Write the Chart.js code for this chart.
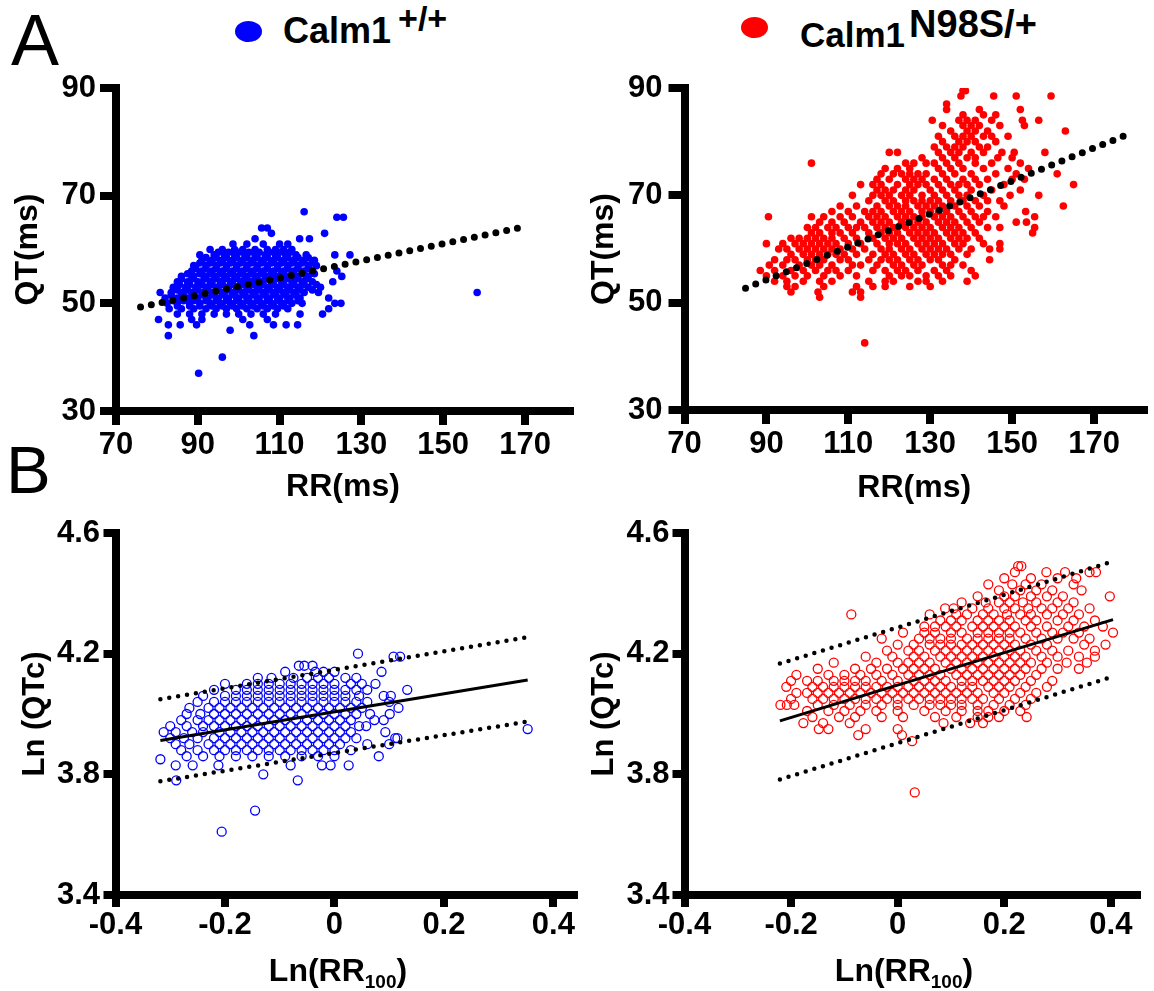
<!DOCTYPE html>
<html>
<head>
<meta charset="utf-8">
<script src="https://cdn.jsdelivr.net/npm/chart.js@4.4.1/dist/chart.umd.min.js"></script>
<style>
  html, body { margin: 0; padding: 0; background: #fff; }
  body { width: 1154px; height: 991px; position: relative; overflow: hidden; font-family: "Liberation Sans", Arial, sans-serif; }
  canvas { position: absolute; }
  .txt { position: absolute; line-height: 1; white-space: nowrap; color: #000; }
  .b { font-weight: bold; }
  .dot { position: absolute; border-radius: 50%; }
</style>
</head>
<body>
<div class="txt" style="left:11px;top:4px;font-size:72px">A</div>
<div class="txt" style="left:6px;top:436px;font-size:67px">B</div>

<div class="dot" style="left:235px;top:21px;width:27px;height:21px;background:#0000ff"></div>
<div class="txt b" style="left:283px;top:12.5px;font-size:36px">Calm1<span style="font-size:34px;position:relative;top:-13px;margin-left:7px">+/+</span></div>
<div class="dot" style="left:741px;top:17px;width:27px;height:21px;background:#ff0000"></div>
<div class="txt b" style="left:800px;top:15.4px;font-size:35px">Calm1<span style="font-size:38px;position:relative;top:-10px;margin-left:4px">N98S/+</span></div>

<canvas id="tl" width="577" height="470" style="left:0;top:40px"></canvas>
<canvas id="tr" width="577" height="470" style="left:577px;top:40px"></canvas>
<canvas id="bl" width="580" height="481" style="left:0;top:510px"></canvas>
<canvas id="br" width="577" height="481" style="left:577px;top:510px"></canvas>

<div class="txt b" style="left:188px;top:954px;width:300px;text-align:center;font-size:32px">Ln(RR<span style="font-size:19px;position:relative;top:7px">100</span>)</div>
<div class="txt b" style="left:754px;top:954px;width:300px;text-align:center;font-size:32px">Ln(RR<span style="font-size:19px;position:relative;top:7px">100</span>)</div>

<script>
// tick values shown on the axes
const rrTicks = [70, 90, 110, 130, 150, 170];
const qtTicks = [30, 50, 70, 90];
const lnRRTicks = [-0.4, -0.2, 0, 0.2, 0.4];
const lnQTcTicks = [3.4, 3.8, 4.2, 4.6];

// ---- panel A, Calm1 +/+ : QT (ms) levels and the RR (ms) values seen on each level
const wtQTLevels = [67, 66, 64, 63, 62, 61, 60, 59, 58, 57, 56, 55, 54, 53, 52, 51, 50, 49, 48, 47, 46, 45, 44, 40, 37,
  59.5, 58.5, 57.5, 56.5, 55.5, 54.5, 53.5, 52.5, 51.5, 50.5, 49.5];
const wtRR = [
  [116],
  [124, 125.6],
  [105.6, 107],
  [108, 121],
  [104, 114.9, 117.3],
  [98.6, 102, 106, 110, 112],
  [93, 96, 99, 101, 104, 107, 109, 111, 113],
  [90.5, 94, 96.5, 99, 101.5, 104, 106.5, 109, 111.5, 114, 116.5, 123.5, 127.2],
  [91, 93.5, 96, 98.5, 101, 103.5, 106, 108.5, 111, 113.5, 116, 118.5],
  [89, 92, 94.5, 97, 99.5, 102, 104.5, 107, 109.5, 112, 114.5, 117, 119],
  [88.5, 91, 93.5, 96, 98.5, 101, 103.5, 106, 108.5, 111, 113.5, 116, 118, 124],
  [86, 89, 92, 94.5, 97, 99.5, 102, 104.5, 107, 109.5, 112, 114.5, 117, 125.2],
  [85, 87.5, 90, 93, 95.5, 98, 100.5, 103, 105.5, 108, 110.5, 113, 115.5, 118, 123],
  [84, 87, 89.5, 92, 94.5, 97, 99.5, 102, 104.5, 107, 109.5, 112, 114.5, 117, 120],
  [80.8, 83.5, 86, 88.5, 91, 93.5, 96, 98.5, 101, 103.5, 106, 108.5, 111, 113.5, 116, 119.5, 158.3],
  [82, 85, 87.5, 90, 92.5, 95, 97.5, 100, 102.5, 105, 107.5, 110, 112.5, 115, 122],
  [82.5, 85, 88, 90.5, 93, 95.5, 98, 100.5, 103, 105.5, 108, 110.5, 113, 115.5, 123.5, 125],
  [83, 86, 89, 92, 94.5, 97, 99.5, 102, 104.5, 107, 109.5, 112, 122],
  [85, 88, 91, 94, 97, 100, 103, 106, 109, 115, 120.5],
  [80.4, 88.5, 91, 101, 107],
  [82.8, 85.7, 89.7, 102.7, 108.5, 111.6, 114.4],
  [97.9],
  [82.8, 103.7],
  [96],
  [90.2],
  // in-between readings of the dense core
  [95, 97.5, 100, 102.5, 105, 107.5, 110, 112.5],
  [92, 94.5, 97, 99.5, 102, 104.5, 107, 109.5, 112, 114.5, 117],
  [90.5, 93, 95.5, 98, 100.5, 103, 105.5, 108, 110.5, 113, 115.5, 118],
  [89.5, 92, 94.5, 97, 99.5, 102, 104.5, 107, 109.5, 112, 114.5, 117],
  [87.5, 90.5, 93, 95.5, 98, 100.5, 103, 105.5, 108, 110.5, 113, 115.5, 118.5],
  [86, 88.5, 91.5, 94, 96.5, 99, 101.5, 104, 106.5, 109, 111.5, 114, 116.5],
  [85.5, 88, 91, 93.5, 96, 98.5, 101, 103.5, 106, 108.5, 111, 113.5, 116, 119],
  [85, 87.5, 90, 92.5, 95, 97.5, 100, 102.5, 105, 107.5, 110, 112.5, 115, 118],
  [83.5, 86.5, 89, 91.5, 94, 96.5, 99, 101.5, 104, 106.5, 109, 111.5, 114],
  [84, 86.5, 89, 92, 94.5, 97, 99.5, 102, 104.5, 107, 109.5, 112, 114.5],
  [85, 88, 90.5, 93.5, 96, 98.5, 101, 103.5, 106, 108.5, 111]
];
const wtFit = [{x: 76, y: 49.3}, {x: 169.2, y: 64.1}];

// ---- panel A, Calm1 N98S/+
const mutQTLevels = [89.5, 88.5, 87, 86, 85, 84, 83, 82, 81, 80, 79, 78, 77, 76, 75, 74, 73, 72, 71, 70,
  69, 68, 67, 66, 65, 64, 63, 62, 61, 60, 59, 58, 57, 56, 55, 54, 53, 52, 51, 42.5];
const mutRR = [
  [138, 138.6],
  [137.5, 145.5, 151, 159.5],
  [134],
  [134, 142, 152],
  [138, 143, 146],
  [130.5, 137, 139, 141, 145, 152.5, 156.5],
  [133, 138, 140, 142, 147, 153],
  [135, 139, 141, 144, 163],
  [132, 136, 138, 140, 143, 145, 149],
  [133, 137, 139, 141, 146],
  [131, 134, 136, 138, 142, 144],
  [120, 122, 132, 135, 137, 140, 143, 147.5, 150.5, 158],
  [128, 133, 136, 139, 141, 146.5, 150],
  [101, 124, 126, 129, 131, 134, 137, 141, 145, 152],
  [119, 122, 125, 132, 135, 138, 143, 149, 154],
  [118, 121, 123, 125, 127, 129, 133, 136, 140, 146, 151, 161],
  [117, 120, 124, 126, 128, 131, 134, 138, 141, 144, 150, 153],
  [113, 116, 118, 122, 125, 127, 129, 132, 135, 137, 139, 142, 148, 165],
  [117, 119, 121, 124, 126, 130, 133, 136, 140, 145, 152],
  [111, 116, 118, 120, 123, 125, 128, 131, 134, 137, 139, 143, 149.5, 156.5],
  [115, 119, 121, 124, 126, 128, 130, 132, 135, 138, 141, 144, 147],
  [108, 112, 117, 120, 122, 124, 127, 129, 131, 133, 136, 139, 142, 148, 162.5],
  [106, 110, 114, 116, 118, 121, 123, 125, 128, 130, 132, 134, 137, 140, 144, 153.3],
  [90.5, 101, 104, 108, 111, 115, 117, 119, 122, 124, 126, 128, 131, 133, 135, 138, 141, 143, 146, 155.5],
  [103, 106, 109, 113, 116, 118, 120, 123, 125, 127, 129, 132, 134, 136, 139, 142, 151, 153.5],
  [100, 102, 105, 107, 110, 112, 114, 117, 119, 121, 124, 126, 128, 130, 133, 135, 137, 140, 144, 147, 155.5],
  [101, 103, 106, 108, 111, 115, 118, 120, 122, 125, 127, 129, 131, 134, 136, 138, 141, 155],
  [96, 98, 100, 102, 104, 106, 109, 112, 116, 119, 121, 123, 126, 128, 130, 132, 135, 137, 139, 142],
  [90, 94, 97, 99, 101, 103, 105, 107, 110, 113, 117, 120, 122, 124, 127, 129, 131, 133, 136, 138, 143, 147],
  [93, 95, 98, 100, 102, 104, 106, 108, 111, 114, 118, 120, 123, 125, 128, 130, 132, 134, 137, 140, 144.5, 147],
  [96, 99, 101, 103, 105, 107, 109, 112, 116, 119, 121, 124, 126, 129, 131, 133, 135, 139],
  [92, 95, 97, 100, 102, 104, 108, 110, 115, 118, 120, 122, 125, 127, 130, 132, 136, 144.5],
  [90.7, 94, 98, 101, 103, 106, 111, 113, 117, 121, 123, 126, 128, 133, 135, 138],
  [88.5, 92, 96, 99, 102, 105, 107, 110, 116, 119, 122, 124, 127, 131, 134, 140],
  [90, 94, 97, 100, 104, 108, 112, 120, 123, 125, 129, 132, 135, 141],
  [92, 95, 99, 103, 106, 115, 119, 121, 127, 129, 133, 139],
  [95, 97, 104, 112, 116, 119, 125, 130],
  [96, 102.6, 111, 113],
  [103, 113],
  [114]
];
const mutFit = [{x: 84.9, y: 52.7}, {x: 178.4, y: 81.4}];

// ---- panel B, Calm1 +/+ : Ln(QTc) levels and Ln(RR100) values
const wtLnQTcLevels = [4.20, 4.19, 4.16, 4.14, 4.12, 4.10, 4.08, 4.06, 4.04, 4.02, 4.00, 3.98, 3.96, 3.95,
  3.94, 3.92, 3.90, 3.88, 3.86, 3.85, 3.83, 3.80, 3.78, 3.68, 3.61];
const wtLnRR = [
  [0.043],
  [0.108, 0.12],
  [-0.065, -0.055, -0.04],
  [-0.09, -0.035, -0.02, 0.0, 0.086],
  [-0.14, -0.115, -0.075, -0.05, -0.03, -0.01, 0.02, 0.04],
  [-0.2, -0.16, -0.14, -0.12, -0.1, -0.08, -0.06, -0.04, -0.02, 0.0, 0.03, 0.05, 0.075],
  [-0.22, -0.18, -0.16, -0.14, -0.12, -0.1, -0.08, -0.06, -0.04, -0.02, 0.0, 0.02, 0.04, 0.06, 0.133],
  [-0.24, -0.2, -0.18, -0.16, -0.14, -0.12, -0.1, -0.08, -0.06, -0.04, -0.02, 0.0, 0.02, 0.045, 0.09, 0.103],
  [-0.25, -0.22, -0.2, -0.18, -0.16, -0.14, -0.12, -0.1, -0.08, -0.06, -0.04, -0.02, 0.0, 0.02, 0.04, 0.06, 0.1],
  [-0.265, -0.23, -0.21, -0.19, -0.17, -0.15, -0.13, -0.11, -0.09, -0.07, -0.05, -0.03, -0.01, 0.01, 0.03, 0.05, 0.117],
  [-0.27, -0.245, -0.22, -0.2, -0.18, -0.16, -0.14, -0.12, -0.1, -0.08, -0.06, -0.04, -0.02, 0.0, 0.02, 0.04, 0.065, 0.101],
  [-0.28, -0.25, -0.23, -0.21, -0.19, -0.17, -0.15, -0.13, -0.11, -0.09, -0.07, -0.05, -0.03, -0.01, 0.01, 0.03, 0.073, 0.09],
  [-0.3, -0.27, -0.24, -0.22, -0.2, -0.18, -0.16, -0.14, -0.12, -0.1, -0.08, -0.06, -0.04, -0.02, 0.0, 0.02, 0.045, 0.058],
  [0.353],
  [-0.312, -0.29, -0.26, -0.24, -0.21, -0.19, -0.17, -0.15, -0.13, -0.11, -0.09, -0.07, -0.05, -0.03, -0.01, 0.01, 0.03, 0.093],
  [-0.3, -0.275, -0.25, -0.22, -0.2, -0.18, -0.16, -0.14, -0.12, -0.1, -0.08, -0.06, -0.04, -0.02, 0.0, 0.02, 0.04, 0.111, 0.115],
  [-0.29, -0.265, -0.23, -0.21, -0.19, -0.17, -0.15, -0.13, -0.11, -0.09, -0.07, -0.05, -0.03, -0.01, 0.01, 0.06, 0.1],
  [-0.28, -0.25, -0.22, -0.2, -0.18, -0.16, -0.14, -0.12, -0.1, -0.08, -0.06, -0.04, -0.02, 0.0, 0.03],
  [-0.27, -0.24, -0.21, -0.18, -0.15, -0.12, -0.09, -0.06, -0.03, 0.0, 0.081],
  [-0.318],
  [-0.29, -0.259, -0.212, -0.08, -0.023, -0.007, 0.026],
  [-0.13],
  [-0.289, -0.067],
  [-0.145],
  [-0.206]
];
const wtLnFit = [{x: -0.318, y: 3.912}, {x: 0.353, y: 4.113}];
const wtLnUpper = [{x: -0.318, y: 4.049}, {x: 0.35, y: 4.254}];
const wtLnLower = [{x: -0.318, y: 3.777}, {x: 0.35, y: 3.974}];

// ---- panel B, Calm1 N98S/+
const mutLnQTcLevels = [4.49, 4.47, 4.45, 4.43, 4.41, 4.39, 4.37, 4.35, 4.33, 4.31, 4.29, 4.27, 4.25, 4.23,
  4.21, 4.19, 4.17, 4.15, 4.13, 4.11, 4.09, 4.07, 4.05, 4.03, 4.01, 3.99, 3.97, 3.95, 3.93, 3.91, 3.74];
const mutLnRR = [
  [0.226, 0.232],
  [0.22, 0.279, 0.314, 0.36, 0.372],
  [0.2, 0.25, 0.3, 0.335],
  [0.17, 0.215, 0.24, 0.27, 0.33],
  [0.19, 0.23, 0.26, 0.29, 0.345],
  [0.15, 0.2, 0.22, 0.25, 0.28, 0.31, 0.398],
  [0.12, 0.165, 0.19, 0.21, 0.235, 0.26, 0.3, 0.33],
  [0.089, 0.105, 0.14, 0.17, 0.2, 0.22, 0.245, 0.27, 0.29, 0.32, 0.36],
  [-0.087, 0.06, 0.11, 0.13, 0.16, 0.18, 0.205, 0.23, 0.25, 0.28, 0.31, 0.34],
  [0.08, 0.1, 0.12, 0.15, 0.17, 0.19, 0.21, 0.24, 0.26, 0.3, 0.33, 0.37],
  [0.05, 0.07, 0.09, 0.11, 0.14, 0.16, 0.18, 0.2, 0.22, 0.25, 0.28, 0.32, 0.35, 0.385],
  [0.01, 0.05, 0.07, 0.1, 0.12, 0.15, 0.17, 0.19, 0.21, 0.23, 0.26, 0.29, 0.31, 0.34, 0.404],
  [-0.03, 0.04, 0.06, 0.08, 0.1, 0.13, 0.15, 0.17, 0.19, 0.21, 0.24, 0.27, 0.3, 0.33, 0.36],
  [0.0, 0.03, 0.06, 0.08, 0.1, 0.12, 0.14, 0.16, 0.18, 0.2, 0.22, 0.25, 0.28, 0.35, 0.39],
  [-0.02, 0.02, 0.04, 0.07, 0.09, 0.11, 0.13, 0.15, 0.17, 0.19, 0.21, 0.23, 0.26, 0.29, 0.32, 0.37],
  [-0.06, -0.01, 0.03, 0.05, 0.08, 0.1, 0.12, 0.14, 0.16, 0.18, 0.2, 0.22, 0.24, 0.27, 0.3, 0.34, 0.37],
  [-0.12, -0.04, 0.0, 0.02, 0.04, 0.06, 0.09, 0.11, 0.13, 0.15, 0.17, 0.19, 0.21, 0.23, 0.25, 0.28, 0.317, 0.355],
  [-0.15, -0.08, -0.05, -0.02, 0.01, 0.03, 0.05, 0.07, 0.1, 0.12, 0.14, 0.16, 0.18, 0.2, 0.22, 0.24, 0.27, 0.3, 0.34],
  [-0.19, -0.13, -0.1, -0.07, -0.04, -0.01, 0.02, 0.04, 0.06, 0.08, 0.11, 0.13, 0.15, 0.17, 0.19, 0.21, 0.23, 0.26],
  [-0.2, -0.17, -0.15, -0.12, -0.1, -0.08, -0.06, -0.03, 0.0, 0.03, 0.05, 0.07, 0.09, 0.12, 0.14, 0.16, 0.18, 0.2, 0.22, 0.25, 0.29],
  [-0.209, -0.16, -0.14, -0.12, -0.1, -0.08, -0.06, -0.04, -0.02, 0.0, 0.02, 0.04, 0.06, 0.08, 0.1, 0.12, 0.14, 0.17, 0.19, 0.21, 0.24, 0.28],
  [-0.19, -0.17, -0.15, -0.13, -0.11, -0.09, -0.07, -0.05, -0.03, -0.01, 0.01, 0.03, 0.05, 0.07, 0.09, 0.11, 0.13, 0.15, 0.18, 0.2, 0.23, 0.26],
  [-0.2, -0.16, -0.14, -0.12, -0.1, -0.08, -0.06, -0.04, -0.02, 0.0, 0.02, 0.04, 0.06, 0.08, 0.1, 0.12, 0.14, 0.16, 0.19, 0.22, 0.25],
  [-0.22, -0.208, -0.194, -0.15, -0.12, -0.09, -0.06, -0.03, 0.0, 0.03, 0.06, 0.08, 0.1, 0.12, 0.15, 0.18, 0.21, 0.24],
  [-0.17, -0.13, -0.1, -0.07, -0.04, 0.0, 0.05, 0.09, 0.12, 0.15, 0.17, 0.2, 0.23],
  [-0.16, -0.11, -0.08, -0.03, 0.01, 0.07, 0.11, 0.15, 0.17, 0.19, 0.242],
  [-0.177, -0.14, -0.09, 0.086, 0.136, 0.16],
  [-0.148, -0.13, -0.06, 0.0],
  [-0.074, 0.008],
  [0.027],
  [0.032]
];
const mutLnFit = [{x: -0.221, y: 3.977}, {x: 0.404, y: 4.313}];
const mutLnUpper = [{x: -0.221, y: 4.167}, {x: 0.397, y: 4.502}];
const mutLnLower = [{x: -0.221, y: 3.783}, {x: 0.397, y: 4.12}];

const FONT = "'Liberation Sans', Arial, sans-serif";

function toPoints(levels, rows) {
  let pts = [];
  levels.forEach((y, i) => {
    rows[i].forEach((x) => pts.push({x: x, y: y}));
  });
  return pts;
}

function dots(data, color, radius) {
  return { data: data, order: 2, pointRadius: radius, pointBackgroundColor: color, pointBorderWidth: 0 };
}

function rings(data, color) {
  return { data: data, order: 2, pointRadius: 4.5, pointBackgroundColor: 'rgba(0,0,0,0)',
    pointBorderColor: color, pointBorderWidth: 1.3 };
}

function dotted(data, width, gap) {
  return { data: data, order: 0, showLine: true, pointRadius: 0, borderColor: '#000',
    borderWidth: width, borderDash: [0, gap], borderCapStyle: 'round' };
}

function solid(data) {
  return { data: data, order: 1, showLine: true, pointRadius: 0, borderColor: '#000', borderWidth: 3 };
}

function fmt(v) {
  if (Math.abs(v) < 1e-9) return '0';
  return Number.isInteger(v) ? String(v) : v.toFixed(1);
}

// one axis; s = settings for size, ticks and title
function axis(s) {
  return {
    type: 'linear',
    min: s.min, max: s.max,
    afterFit: (scale) => {
      if (scale.isHorizontal()) scale.height = s.size; else scale.width = s.size;
    },
    afterBuildTicks: (scale) => {
      scale.ticks = s.ticks.map((v) => ({ value: v }));
    },
    ticks: {
      autoSkip: false, maxRotation: 0,
      padding: s.labelPad, color: '#000', callback: fmt,
      font: { family: FONT, size: 31, weight: 'bold', lineHeight: 1.2 }
    },
    grid: { drawOnChartArea: false, drawTicks: true, tickLength: s.tick, tickWidth: 8, lineWidth: 8,
      color: '#000', tickColor: '#000' },
    border: { display: true, width: 8, color: '#000' },
    title: s.title ? {
      display: true, text: s.title, color: '#000', padding: s.titlePad,
      font: { family: FONT, size: s.titleSize || 32, weight: 'bold', lineHeight: 1.2 }
    } : { display: false }
  };
}

function panel(id, datasets, pad, x, y) {
  return new Chart(document.getElementById(id), {
    type: 'scatter',
    data: { datasets: datasets },
    options: {
      responsive: false, animation: false, devicePixelRatio: 1,
      layout: { padding: pad },
      plugins: { legend: { display: false }, tooltip: { enabled: false } },
      scales: { x: axis(x), y: axis(y) }
    }
  });
}

panel('tl',
  [dotted(wtFit, 7, 11), dots(toPoints(wtQTLevels, wtRR), '#0000ff', 3.8)],
  { top: 48, right: 7, bottom: 0, left: 0 },
  { min: 70, max: 181, ticks: rrTicks, size: 99, tick: 14, labelPad: 2, title: 'RR(ms)', titlePad: { top: 0, bottom: 4 } },
  { min: 30, max: 90, ticks: qtTicks, size: 116, tick: 16, labelPad: 4, title: 'QT(ms)', titlePad: { top: 9, bottom: 0 } });

panel('tr',
  [dotted(mutFit, 7, 11), dots(toPoints(mutQTLevels, mutRR), '#ff0000', 3.8)],
  { top: 48, right: 10, bottom: 0, left: 0 },
  { min: 70, max: 182.2, ticks: rrTicks, size: 100, tick: 14, labelPad: 2, title: 'RR(ms)', titlePad: { top: 0, bottom: 3 } },
  { min: 30, max: 90, ticks: qtTicks, size: 107.5, tick: 16, labelPad: 6, title: 'QT(ms)', titlePad: { top: 8, bottom: 0 } });

panel('bl',
  [dotted(wtLnUpper, 4.5, 9), dotted(wtLnLower, 4.5, 9), solid(wtLnFit),
    rings(toPoints(wtLnQTcLevels, wtLnRR), '#0000ff')],
  { top: 23, right: 2, bottom: 0, left: 0 },
  { min: -0.4, max: 0.438, ticks: lnRRTicks, size: 96, tick: 12, labelPad: 0 },
  { min: 3.4, max: 4.6, ticks: lnQTcTicks, size: 115.5, tick: 12, labelPad: 3.5, title: 'Ln (QTc)', titleSize: 31, titlePad: { top: 17, bottom: 0 } });

panel('br',
  [dotted(mutLnUpper, 4.5, 9), dotted(mutLnLower, 4.5, 9), solid(mutLnFit),
    rings(toPoints(mutLnQTcLevels, mutLnRR), '#ff0000')],
  { top: 23, right: 17, bottom: 0, left: 0 },
  { min: -0.4, max: 0.449, ticks: lnRRTicks, size: 96, tick: 12, labelPad: 0 },
  { min: 3.4, max: 4.6, ticks: lnQTcTicks, size: 107.5, tick: 12, labelPad: 3, title: 'Ln (QTc)', titleSize: 31, titlePad: { top: 9, bottom: 0 } });
</script>
</body>
</html>
